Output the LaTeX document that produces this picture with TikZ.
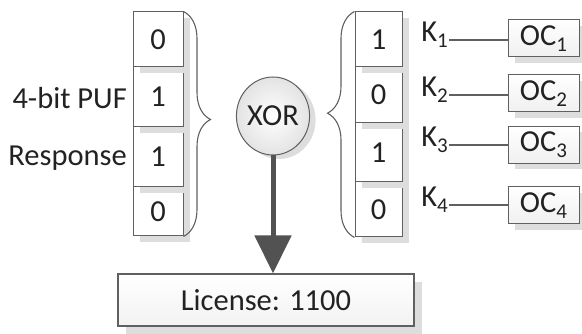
\documentclass[tikz,border=0pt]{standalone}
\usepackage{fontspec}
\setmainfont{Carlito}
\usetikzlibrary{shadows,arrows.meta,decorations.pathreplacing,shapes.geometric}
\definecolor{txt}{HTML}{222222}
\definecolor{edge}{HTML}{606060}
\definecolor{shade}{HTML}{DDDDDD}
\newcommand{\subnum}[1]{\raisebox{-6pt}{\fontsize{21}{21}\selectfont #1}}
\tikzset{
  every node/.style={text=txt,font=\fontsize{30.5}{32}\selectfont,inner sep=0pt},
  cellbox/.style={draw=edge,line width=1pt,fill=white,minimum width=#1},
  sh/.style={drop shadow={shadow xshift=7pt,shadow yshift=-6pt,fill=shade,opacity=1}},
  ocbox/.style={draw=edge,line width=1pt,top color=white,bottom color=gray!12,
    minimum width=71pt,minimum height=37pt,sh},
  bracestyle/.style={draw=edge,line width=1.1pt,decorate},
  link/.style={draw=edge,line width=1.6pt},
}
\begin{document}
\begin{tikzpicture}[x=1pt,y=-1pt]
\useasboundingbox (0,0) rectangle (582,334);
% left column (drawn bottom first so shadows fall on the next cell)
\node[cellbox=50pt,minimum height=49pt,sh] (l4) at (158,211.5) {0};
\node[cellbox=50pt,minimum height=60pt,sh] (l3) at (158,157) {1};
\node[cellbox=50pt,minimum height=60pt,sh] (l2) at (158,97) {1};
\node[cellbox=50pt,minimum height=55pt,sh] (l1) at (158,39.5) {0};
% right column
\node[cellbox=47pt,minimum height=55pt,sh] (r4) at (378.5,209.5) {0};
\node[cellbox=47pt,minimum height=59pt,sh] (r3) at (378.5,152.5) {1};
\node[cellbox=47pt,minimum height=56pt,sh] (r2) at (378.5,95) {0};
\node[cellbox=47pt,minimum height=55pt,sh] (r1) at (378.5,39.5) {1};
% label
\node[anchor=east,align=right,font=\fontsize{30.5}{57}\selectfont] (lbl) at (127,129) {4-bit PUF\\Response};
% braces
\draw[bracestyle,decoration={brace,amplitude=27pt,aspect=0.48}] (l1.north east) -- (l4.south east);
\draw[bracestyle,decoration={brace,amplitude=27pt,aspect=0.55}] (r4.south west) -- (r1.north west);
% XOR
\node[ellipse,draw=edge,line width=1pt,inner color=white,outer color=gray!22,
  minimum width=68pt,minimum height=78pt,
  drop shadow={shadow xshift=6pt,shadow yshift=-4pt,fill=shade,opacity=1}] (xor) at (273,116) {XOR};
% license
\node[draw=edge,line width=1.2pt,top color=white,bottom color=gray!10,
  minimum width=296pt,minimum height=52pt,
  drop shadow={shadow xshift=8pt,shadow yshift=-8pt,fill=shade,opacity=1}] (lic) at (266,300) {License: 1100};
\draw[draw=edge!85!black,line width=5pt,-{Triangle[width=36pt,length=38pt]}] (xor.south) -- (xor.south |- lic.north);
% keys
\node[anchor=east] (k1) at (448,35) {K\subnum{1}};
\node[anchor=east] (k2) at (448,90) {K\subnum{2}};
\node[anchor=east] (k3) at (448,140) {K\subnum{3}};
\node[anchor=east] (k4) at (448,200) {K\subnum{4}};
\node[ocbox] (oc1) at (543.5,38.5) {OC\subnum{1}};
\node[ocbox] (oc2) at (543.5,93.5) {OC\subnum{2}};
\node[ocbox] (oc3) at (543.5,145) {OC\subnum{3}};
\node[ocbox] (oc4) at (543.5,205.5) {OC\subnum{4}};
\coordinate (a1) at (449,40); \coordinate (a2) at (449,95);
\coordinate (a3) at (449,145); \coordinate (a4) at (449,205);
\draw[link] (a1) -- (a1 -| oc1.west);
\draw[link] (a2) -- (a2 -| oc2.west);
\draw[link] (a3) -- (a3 -| oc3.west);
\draw[link] (a4) -- (a4 -| oc4.west);
\end{tikzpicture}
\end{document}
